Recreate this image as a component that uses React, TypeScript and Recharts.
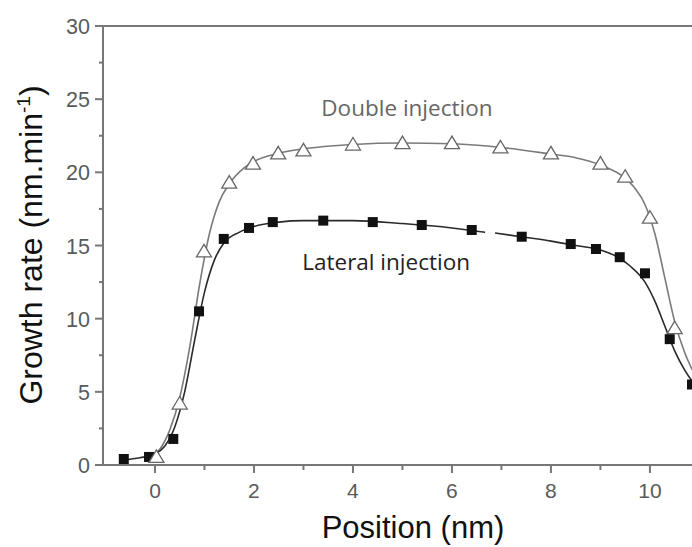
import React from 'react';
import {
  ComposedChart,
  Line,
  Scatter,
  XAxis,
  YAxis,
  ReferenceLine,
  ReferenceDot,
  Label,
} from 'recharts';

// Measured points: lateral injection (filled squares)
const lateralX = [-0.63, -0.12, 0.37, 0.89, 1.39, 1.9, 2.38, 3.4, 4.4, 5.39, 6.4, 7.41, 8.4, 8.91, 9.39, 9.9, 10.4, 10.85];
const lateralY = [0.41, 0.55, 1.78, 10.5, 15.45, 16.2, 16.6, 16.7, 16.6, 16.4, 16.06, 15.6, 15.1, 14.76, 14.2, 13.1, 8.6, 5.5];

// Measured points: double injection (open triangles)
const doubleX = [0.03, 0.5, 0.99, 1.5, 1.98, 2.49, 3.0, 4.0, 5.0, 6.0, 6.98, 8.0, 9.0, 9.5, 10.0, 10.5];
const doubleY = [0.55, 4.2, 14.6, 19.3, 20.6, 21.3, 21.5, 21.9, 22.0, 22.0, 21.7, 21.3, 20.6, 19.7, 16.9, 9.35];

// Fitted curves
const lateralFitX = [-0.65, -0.3, 0, 0.2, 0.4, 0.6, 0.8, 1.0, 1.2, 1.4, 1.7, 2.0, 2.5, 3.0, 4.0, 5.0, 6.0, 6.67, 6.77, 6.87, 7.5, 8.0, 8.5, 9.0, 9.3, 9.6, 9.9, 10.1, 10.3, 10.5, 10.7, 10.9];
const lateralFitY: (number | null)[] = [0.35, 0.5, 0.75, 1.3, 2.6, 5.0, 8.5, 11.8, 14.0, 15.2, 15.9, 16.3, 16.6, 16.7, 16.7, 16.5, 16.2, 15.9, null, 15.85, 15.55, 15.3, 15.0, 14.7, 14.3, 13.6, 12.5, 11.2, 9.5, 7.8, 6.5, 5.5];

const doubleFitX = [-0.1, 0.1, 0.3, 0.5, 0.7, 0.9, 1.1, 1.3, 1.5, 1.8, 2.0, 2.5, 3.0, 4.0, 5.0, 6.0, 7.0, 8.0, 8.5, 9.0, 9.5, 9.7, 9.9, 10.1, 10.3, 10.5, 10.7, 10.9];
const doubleFitY = [0.6, 1.1, 2.4, 4.6, 8.0, 12.3, 15.8, 18.0, 19.2, 20.3, 20.75, 21.3, 21.6, 21.9, 22.0, 21.95, 21.7, 21.25, 21.0, 20.5, 19.6, 18.9, 17.8, 15.8, 12.8, 9.8, 7.7, 6.2];

const xTicks = [0, 1, 2, 3, 4, 5, 6, 7, 8, 9, 10];
const yTicks = [0, 2.5, 5, 7.5, 10, 12.5, 15, 17.5, 20, 22.5, 25, 27.5, 30];

const lateralPts = lateralX.map((x, i) => ({ x, y: lateralY[i] }));
const doublePts = doubleX.map((x, i) => ({ x, y: doubleY[i] }));
const lateralFit = lateralFitX.map((x, i) => ({ x, y: lateralFitY[i] }));
const doubleFit = doubleFitX.map((x, i) => ({ x, y: doubleFitY[i] }));

const AXIS = '#777';
const TICK_TEXT = '#5a5a5a';
const FONT = '"Liberation Sans", Arial, sans-serif';

const XTick = (props: any) => {
  const { x, y, payload } = props;
  const v = payload.value;
  const major = v % 2 === 0;
  return (
    <g>
      <line x1={x} x2={x} y1={y} y2={y + (major ? 8 : 5)} stroke={AXIS} strokeWidth={2} />
      {major && (
        <text x={x} y={y + 33} textAnchor="middle" fill={TICK_TEXT} fontSize={21} fontFamily={FONT}>
          {v}
        </text>
      )}
    </g>
  );
};

const YTick = (props: any) => {
  const { x, y, payload } = props;
  const v = payload.value;
  const major = v % 5 === 0;
  return (
    <g>
      <line x1={x} x2={x - (major ? 8 : 4)} y1={y} y2={y} stroke={AXIS} strokeWidth={2} />
      {major && (
        <text x={x - 13} y={y + 8} textAnchor="end" fill={TICK_TEXT} fontSize={21.5} fontFamily={FONT}>
          {v}
        </text>
      )}
    </g>
  );
};

const Square = (props: any) => {
  const { cx, cy } = props;
  return <rect x={cx - 5} y={cy - 5} width={10} height={10} fill="#111" />;
};

const Triangle = (props: any) => {
  const { cx, cy } = props;
  const pts = `${cx},${cy - 7} ${cx - 7.5},${cy + 5.5} ${cx + 7.5},${cy + 5.5}`;
  return <polygon points={pts} fill="#fff" stroke="#666" strokeWidth={1.3} />;
};

export default function App() {
  return (
    <div style={{ position: 'absolute', left: 0, top: 0, width: 692, height: 547, background: '#fff' }}>
      <ComposedChart width={692} height={547} margin={{ top: 26, right: 0, left: 43, bottom: 32 }}>
        <XAxis
          dataKey="x"
          type="number"
          domain={[-1.05, 10.85]}
          ticks={xTicks}
          allowDataOverflow
          height={50}
          axisLine={{ stroke: AXIS, strokeWidth: 2 }}
          tickLine={false}
          tickSize={0}
          tickMargin={0}
          tick={<XTick />}
          interval={0}
        >
          <Label
            content={() => (
              <text x={413} y={538} textAnchor="middle" fill="#111" fontSize={31} fontFamily={FONT}>
                Position (nm)
              </text>
            )}
          />
        </XAxis>
        <YAxis
          dataKey="y"
          type="number"
          domain={[0, 30]}
          ticks={yTicks}
          allowDataOverflow
          width={60}
          axisLine={{ stroke: AXIS, strokeWidth: 2 }}
          tickLine={false}
          tickSize={0}
          tickMargin={0}
          tick={<YTick />}
          interval={0}
        >
          <Label
            content={() => (
              <text
                x={42}
                y={245}
                transform="rotate(-90, 42, 245)"
                textAnchor="middle"
                fill="#111"
                fontSize={32}
                fontFamily={FONT}
              >
                Growth rate (nm.min
                <tspan fontSize={19} dy={-12}>-1</tspan>
                <tspan dy={12}>)</tspan>
              </text>
            )}
          />
        </YAxis>
        <ReferenceLine y={30} stroke={AXIS} strokeWidth={2} />
        <Line
          data={doubleFit}
          dataKey="y"
          type="monotone"
          stroke="#7a7a7a"
          strokeWidth={1.6}
          dot={false}
          activeDot={false}
          isAnimationActive={false}
        />
        <Line
          data={lateralFit}
          dataKey="y"
          type="monotone"
          stroke="#2a2a2a"
          strokeWidth={1.6}
          dot={false}
          activeDot={false}
          connectNulls={false}
          isAnimationActive={false}
        />
        <Scatter data={lateralPts} dataKey="y" shape={<Square />} isAnimationActive={false} />
        <Scatter data={doublePts} dataKey="y" shape={<Triangle />} isAnimationActive={false} />
        <ReferenceDot
          x={5.09}
          y={24.4}
          r={0}
          fill="none"
          stroke="none"
          label={{ value: 'Double injection', position: 'center', fill: '#666', fontSize: 22.5, fontFamily: '"Open Sans", sans-serif' }}
        />
        <ReferenceDot
          x={4.67}
          y={13.9}
          r={0}
          fill="none"
          stroke="none"
          label={{ value: 'Lateral injection', position: 'center', fill: '#222', fontSize: 22.5, fontFamily: '"Open Sans", sans-serif' }}
        />
      </ComposedChart>
    </div>
  );
}
